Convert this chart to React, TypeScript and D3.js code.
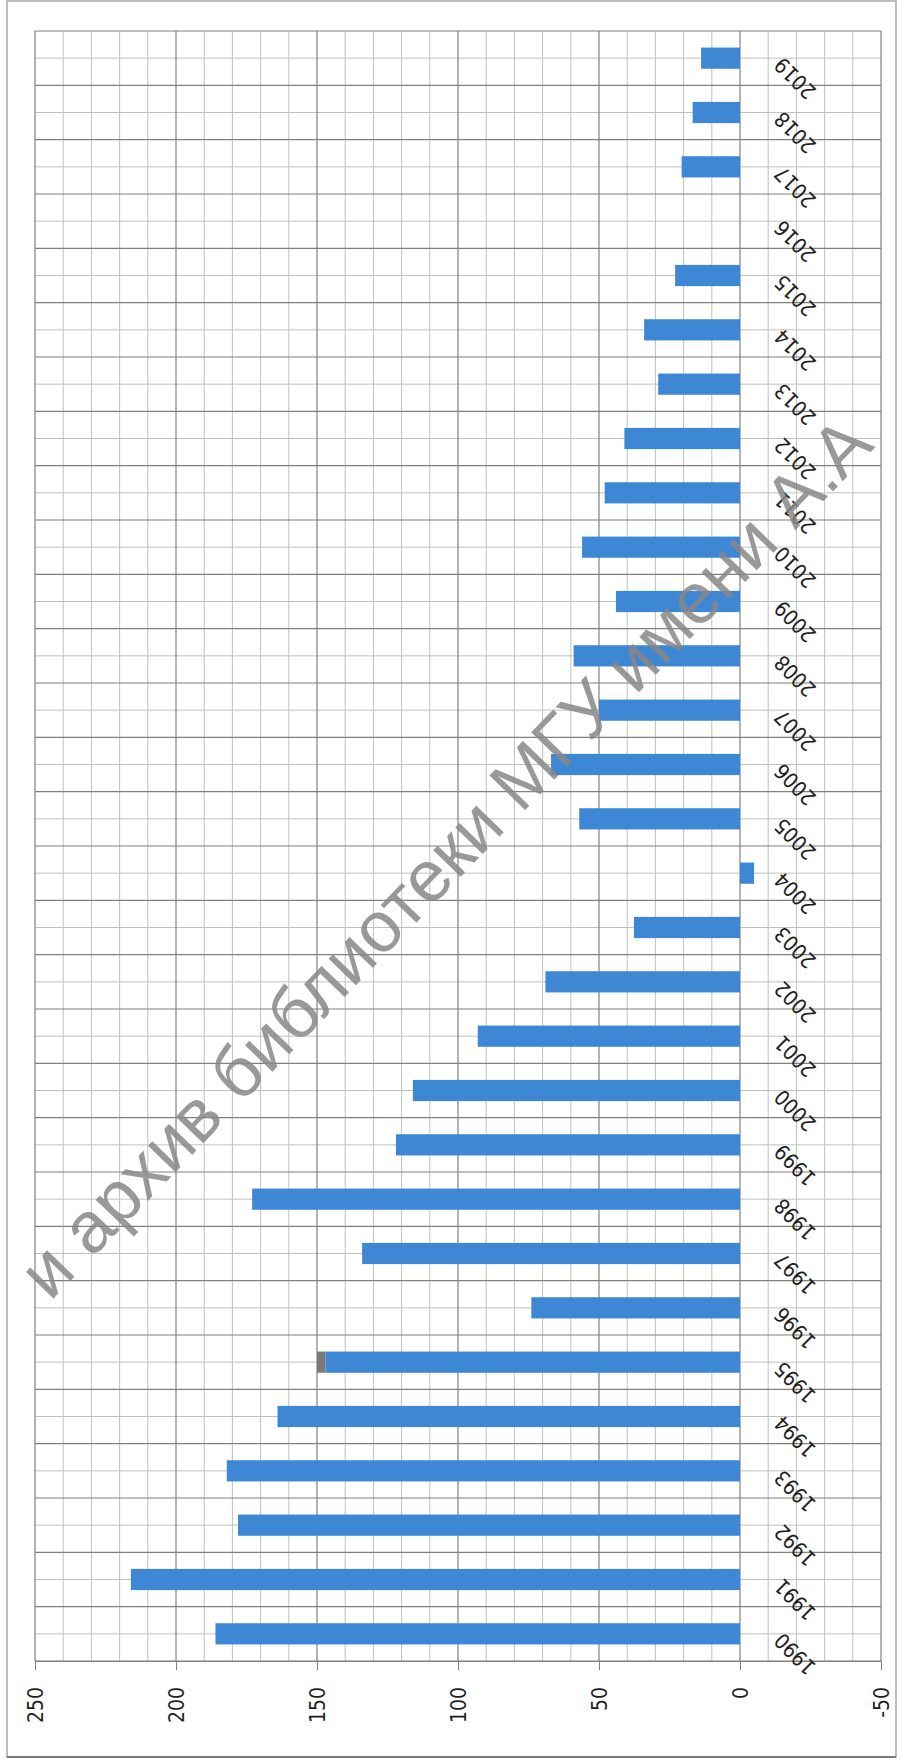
import { useEffect, useRef } from 'react';
import * as d3 from 'd3';

const years = [
  '1990', '1991', '1992', '1993', '1994', '1995', '1996', '1997', '1998', '1999',
  '2000', '2001', '2002', '2003', '2004', '2005', '2006', '2007', '2008', '2009',
  '2010', '2011', '2012', '2013', '2014', '2015', '2016', '2017', '2018', '2019',
];
const mainValues = [
  186, 216, 178, 182, 164, 147, 74, 134, 173, 122,
  116, 93, 69, 37.6, -5, 57, 67, 50, 59, 44,
  56, 48, 41, 29, 34, 23, 0, 20.7, 16.8, 13.8,
];
const extraValues = [
  0, 0, 0, 0, 0, 3, 0, 0, 0, 0,
  0, 0, 0, 0, 0, 0, 0, 0, 0, 0,
  0, 0, 0, 0, 0, 0, 0, 0, 0, 0,
];
const valueTicks = [250, 200, 150, 100, 50, 0, -50];
const watermark = 'и архив библиотеки МГУ имени А.А';

const W = 902;
const H = 1764;

export default function App() {
  const svgRef = useRef<SVGSVGElement>(null);

  useEffect(() => {
    if (!svgRef.current) return;
    const margin = { top: 31, right: 21, bottom: 103, left: 35 };
    const svg = d3.select(svgRef.current);
    svg.selectAll('*').remove();

    const x = d3
      .scaleLinear()
      .domain([250, -50])
      .range([margin.left, W - margin.right]);
    const y = d3
      .scaleBand<string>()
      .domain([...years].reverse())
      .range([margin.top, H - margin.bottom])
      .padding(0);
    const bw = y.bandwidth();
    const barH = bw * 0.39;
    const font = "'DejaVu Sans Condensed', 'DejaVu Sans', sans-serif";

    svg.append('rect').attr('width', W).attr('height', H).attr('fill', '#fff');

    // outer frame
    svg
      .append('rect')
      .attr('x', 7)
      .attr('y', 1)
      .attr('width', 889)
      .attr('height', 1756)
      .attr('fill', 'none')
      .attr('stroke', '#a8a8a8')
      .attr('stroke-width', 1.5);
    svg
      .append('line')
      .attr('x1', 7)
      .attr('x2', 896)
      .attr('y1', 1757)
      .attr('y2', 1757)
      .attr('stroke', '#7a7a7a')
      .attr('stroke-width', 2);

    const grid = svg.append('g');
    // minor vertical grid
    grid
      .selectAll('line.vmin')
      .data(d3.range(-50, 251, 10).filter((v) => v % 50 !== 0))
      .join('line')
      .attr('x1', (d) => x(d))
      .attr('x2', (d) => x(d))
      .attr('y1', margin.top)
      .attr('y2', H - margin.bottom)
      .attr('stroke', '#c0c0c0')
      .attr('stroke-width', 1);
    // minor horizontal grid (band centres)
    grid
      .selectAll('line.hmin')
      .data(years)
      .join('line')
      .attr('x1', x(250))
      .attr('x2', x(-50))
      .attr('y1', (d) => (y(d) as number) + bw / 2)
      .attr('y2', (d) => (y(d) as number) + bw / 2)
      .attr('stroke', '#c0c0c0')
      .attr('stroke-width', 1);
    // major vertical grid
    grid
      .selectAll('line.vmaj')
      .data(valueTicks)
      .join('line')
      .attr('x1', (d) => x(d))
      .attr('x2', (d) => x(d))
      .attr('y1', margin.top)
      .attr('y2', H - margin.bottom)
      .attr('stroke', '#808080')
      .attr('stroke-width', 1.2);
    // major horizontal grid (band edges)
    grid
      .selectAll('line.hmaj')
      .data([...years, 'end'])
      .join('line')
      .attr('x1', x(250))
      .attr('x2', x(-50))
      .attr('y1', (d) => (d === 'end' ? margin.top : (y(d) as number) + bw))
      .attr('y2', (d) => (d === 'end' ? margin.top : (y(d) as number) + bw))
      .attr('stroke', '#808080')
      .attr('stroke-width', 1.2);

    // bars
    svg
      .append('g')
      .selectAll('rect')
      .data(years)
      .join('rect')
      .attr('x', (_, i) => x(Math.max(mainValues[i], 0)))
      .attr('width', (_, i) => Math.abs(x(mainValues[i]) - x(0)))
      .attr('y', (d) => (y(d) as number) + (bw - barH) / 2)
      .attr('height', barH)
      .attr('fill', '#3d87d4');

    svg
      .append('g')
      .selectAll('rect')
      .data(years.filter((_, i) => extraValues[i] > 0))
      .join('rect')
      .attr('x', (d) => {
        const i = years.indexOf(d);
        return x(mainValues[i] + extraValues[i]);
      })
      .attr('width', (d) => {
        const i = years.indexOf(d);
        return x(mainValues[i]) - x(mainValues[i] + extraValues[i]);
      })
      .attr('y', (d) => (y(d) as number) + (bw - barH) / 2)
      .attr('height', barH)
      .attr('fill', '#7a7a7a');

    // value axis
    const xAxis = svg
      .append('g')
      .attr('transform', `translate(0,${H - margin.bottom})`)
      .call(d3.axisBottom(x).tickValues(valueTicks).tickSize(9).tickFormat((d) => `${d}`));
    xAxis.select('.domain').attr('stroke', '#808080');
    xAxis.selectAll('.tick line').attr('stroke', '#808080');
    xAxis
      .selectAll('.tick text')
      .attr('x', 0)
      .attr('y', 0)
      .attr('dy', '0.35em')
      .attr('transform', 'translate(0,26) rotate(-90)')
      .attr('text-anchor', 'end')
      .attr('fill', '#1e1e1e')
      .style('font-family', font)
      .style('font-size', '21px');

    // category axis at zero
    const yAxis = svg
      .append('g')
      .attr('transform', `translate(${x(0)},0)`)
      .call(d3.axisRight(y).tickSize(0));
    yAxis.select('.domain').remove();
    yAxis
      .selectAll('.tick text')
      .attr('x', 0)
      .attr('y', 0)
      .attr('dy', '0.35em')
      .attr('transform', 'translate(38,3) rotate(-135)')
      .attr('text-anchor', 'end')
      .attr('fill', '#1e1e1e')
      .style('font-family', font)
      .style('font-size', '21px');

    // watermark
    svg
      .append('text')
      .attr('transform', 'translate(50,1302) rotate(-46)')
      .attr('fill', '#888')
      .attr('opacity', 0.85)
      .style('font-family', "'Liberation Sans', Arial, sans-serif")
      .style('font-size', '72px')
      .text(watermark);
  }, []);

  return (
    <>
      <style>{'body{margin:0}'}</style>
      <svg ref={svgRef} width={W} height={H} style={{ display: 'block' }} />
    </>
  );
}
